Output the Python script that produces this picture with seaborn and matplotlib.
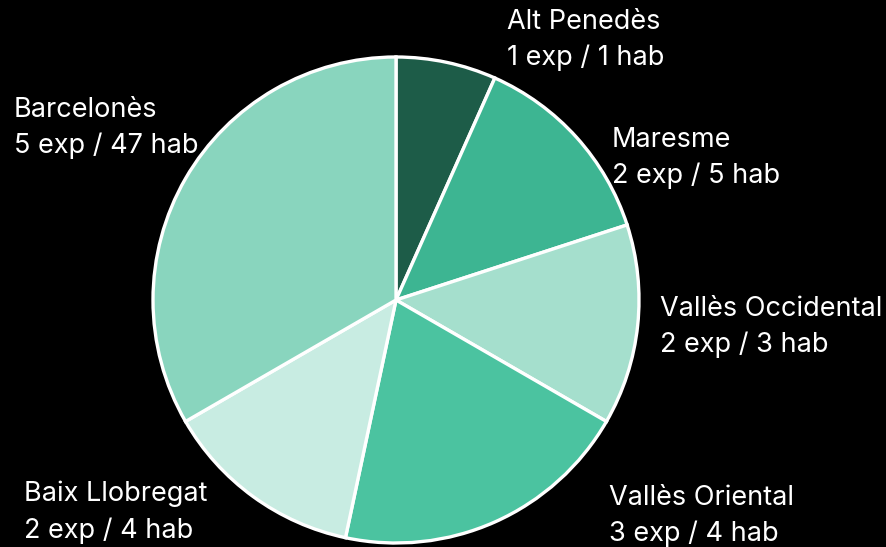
import seaborn as sns
import matplotlib.pyplot as plt

# data
comarques = ["Alt Penedès", "Maresme", "Vallès Occidental", "Vallès Oriental",
             "Baix Llobregat", "Barcelonès"]
expedients = [1, 2, 2, 3, 2, 5]
habitatges = [1, 5, 3, 4, 4, 47]
colors = ["#1d5c48", "#3db592", "#a5dfcd", "#4bc3a0", "#c8ece2", "#89d5be"]

sns.set_style("white")
plt.rcParams["font.family"] = ["Inter", "DejaVu Sans"]

fig = plt.figure(figsize=(8.86, 5.47), dpi=100, facecolor="black")
ax = fig.add_axes([0, 0, 1, 1])
ax.set_facecolor("black")

ax.pie(expedients, colors=colors, startangle=90, counterclock=False,
       center=(396, 247), radius=243,
       wedgeprops=dict(edgecolor="white", linewidth=2.4), frame=True)
ax.set_xlim(0, 886)
ax.set_ylim(0, 547)
ax.set_aspect("equal")
ax.axis("off")

# label anchor (left, vertical centre of the two lines) in pixels
label_pos = [(507, 507), (612, 389), (660, 220), (609, 31), (24, 35), (14, 419)]
for name, e, h, (x, y) in zip(comarques, expedients, habitatges, label_pos):
    ax.text(x, y, f"{name}\n{e} exp / {h} hab", color="white", fontsize=19.5,
            ha="left", va="center", linespacing=1.5)

fig.savefig("out.png", dpi=100, facecolor="black")
